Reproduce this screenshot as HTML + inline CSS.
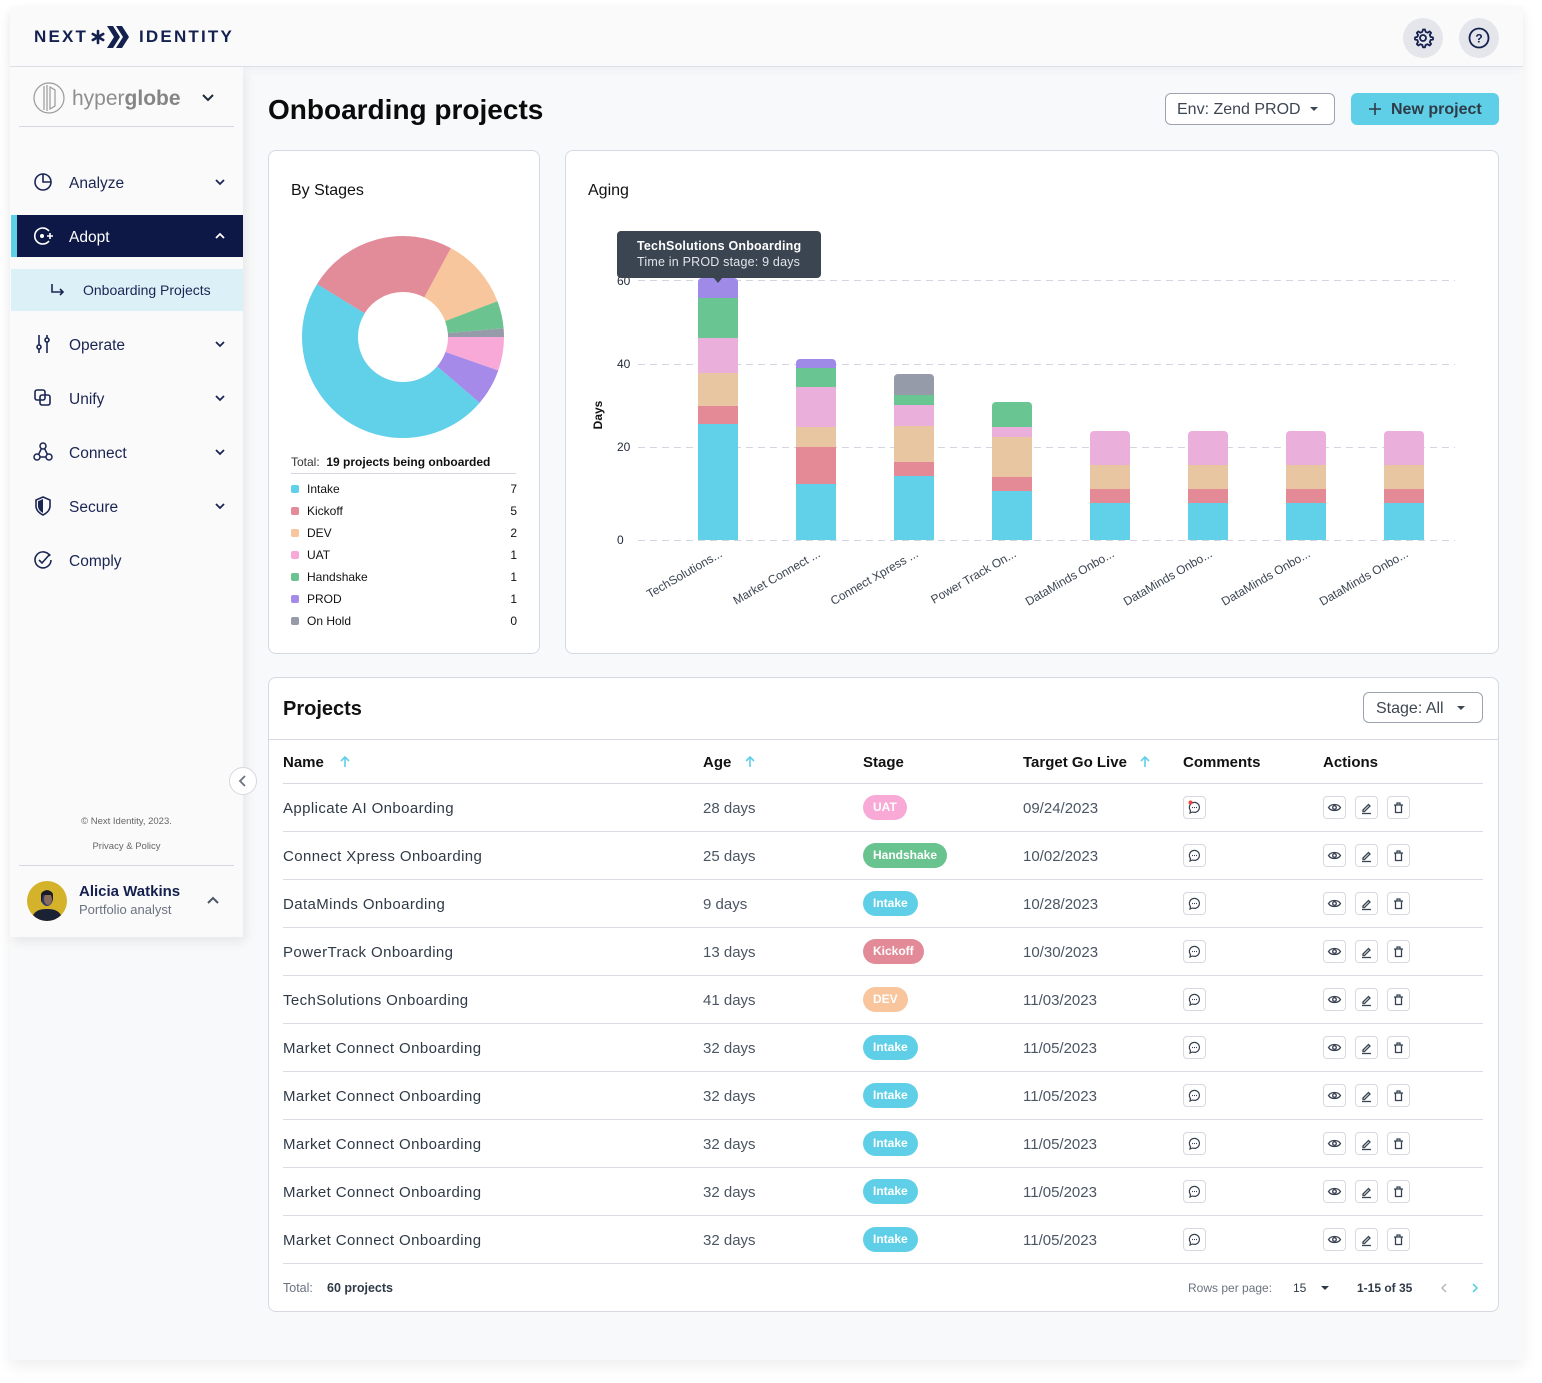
<!DOCTYPE html>
<html><head><meta charset="utf-8">
<style>
*{box-sizing:border-box;margin:0;padding:0}
body{width:1542px;height:1383px;background:#fff;position:relative;overflow:hidden;font-family:"Liberation Sans",sans-serif;color:#111827}
.a{position:absolute;white-space:nowrap}
.card{position:absolute;background:#fff;border:1px solid #d6d9e3;border-radius:8px}
.nav{position:absolute;left:69px;font-size:15.5px;color:#1b2553;line-height:20px}
.row{position:absolute;left:0;width:1542px;height:48px}
.row .nm{position:absolute;left:283px;top:15px;line-height:20px;font-size:15px;color:#2f3a47;letter-spacing:0.4px}
.row .ag{position:absolute;left:703px;top:15px;line-height:20px;font-size:15px;color:#4b5563}
.row .dt{position:absolute;left:1023px;top:15px;line-height:20px;font-size:15px;color:#4b5563}
.row .bd{position:absolute;left:863px;top:11px;height:25px;line-height:25px;border-radius:13px;padding:0 10px;font-size:12px;font-weight:bold;color:#fff}
.row .sep{position:absolute;left:283px;top:47px;width:1200px;height:1px;background:#d9dce4}
.ib{position:absolute;top:12px;width:23px;height:23px;border:1px solid #d6d9e0;border-radius:4px;background:#fff}
.ib svg{position:absolute;left:0;top:0}
.th{position:absolute;top:753px;line-height:20px;font-size:15px;font-weight:bold;color:#111}
.lg{position:absolute;left:291px;width:226px;height:16px;font-size:12px;line-height:16px;color:#111}
.lg i{position:absolute;left:0;top:4px;width:8px;height:8px;border-radius:2px}
.lg span{position:absolute;left:16px}
.lg b{position:absolute;right:0;font-weight:normal}
</style></head>
<body>
<!-- app container -->
<div class="a" style="left:10px;top:7px;width:1513px;height:1353px;background:#f8f9fa;box-shadow:0 6px 14px rgba(0,0,0,0.07)"></div>
<!-- header -->
<div class="a" style="left:10px;top:7px;width:1513px;height:60px;background:#fafafa;border-bottom:1px solid #dde0e8;box-shadow:0 3px 8px rgba(0,0,0,0.04)"></div>
<div class="a" style="left:34px;top:27px;line-height:20px;font-size:17px;font-weight:bold;letter-spacing:2.2px;color:#14204e">NEXT</div>
<svg class="a" style="left:88px;top:22px" width="50" height="30" viewBox="0 0 50 30">
 <g stroke="#14204e" stroke-width="2.6" stroke-linecap="round">
  <line x1="10" y1="9" x2="10" y2="21"/><line x1="4.8" y1="12" x2="15.2" y2="18"/><line x1="4.8" y1="18" x2="15.2" y2="12"/>
 </g>
 <polygon points="19,4 25,4 32,15 25,26 19,26 26,15" fill="#14204e"/>
 <polygon points="28,4 34,4 41,15 34,26 28,26 35,15" fill="#14204e"/>
</svg>
<div class="a" style="left:139px;top:27px;line-height:20px;font-size:17px;font-weight:bold;letter-spacing:2.2px;color:#14204e">IDENTITY</div>
<!-- header buttons -->
<div class="a" style="left:1403px;top:18px;width:40px;height:40px;border-radius:20px;background:#e4e6eb"></div>
<svg class="a" style="left:1403px;top:18px" width="40" height="40"><g fill="none" stroke="#14204e" stroke-width="1.8"><circle cx="20" cy="20" r="3"/><path d="M20 11.5 L22 11.5 L22.6 13.8 L24.6 14.7 L26.6 13.4 L28.1 14.9 L26.8 16.9 L27.6 18.9 L30 19.5 L30 21.5 L27.6 22 L26.8 24 L28.1 26 L26.6 27.5 L24.6 26.2 L22.6 27 L22 29.3 L20 29.3 L19.3 27 L17.3 26.2 L15.3 27.5 L13.8 26 L15.1 24 L14.3 22 L12 21.5 L12 19.5 L14.3 18.9 L15.1 16.9 L13.8 14.9 L15.3 13.4 L17.3 14.7 L19.3 13.8 Z" stroke-linejoin="round"/></g></svg>
<div class="a" style="left:1459px;top:18px;width:40px;height:40px;border-radius:20px;background:#e4e6eb"></div>
<svg class="a" style="left:1459px;top:18px" width="40" height="40"><circle cx="20" cy="20" r="9.5" fill="none" stroke="#14204e" stroke-width="1.8"/><text x="20" y="24.5" text-anchor="middle" font-family="Liberation Sans" font-weight="bold" font-size="12" fill="#14204e">?</text></svg>

<!-- sidebar -->
<div class="a" style="left:10px;top:67px;width:233px;height:870px;background:#fafafa;box-shadow:3px 5px 10px rgba(0,0,0,0.07)"></div>
<svg class="a" style="left:32px;top:82px" width="34" height="34"><g fill="none" stroke="#9a9a9a" stroke-width="1.2"><circle cx="17" cy="16" r="15"/><path d="M12 4 L12 28 M15 3 L15 29 M18 5 L18 27 L23 24 L23 8 Z"/></g></svg>
<div class="a" style="left:72px;top:87px;line-height:24px;font-size:21px;color:#8e8e8e">hyper<b style="color:#858585">globe</b></div>
<svg class="a" style="left:200px;top:92px" width="16" height="12"><path d="M3 3 L8 8 L13 3" fill="none" stroke="#1f2937" stroke-width="2"/></svg>
<div class="a" style="left:19px;top:126px;width:215px;height:1px;background:#d5d8e2"></div>

<!-- nav -->
<svg class="a" style="left:32px;top:171px" width="22" height="22"><g fill="none" stroke="#1b2553" stroke-width="1.6"><circle cx="11" cy="11" r="8"/><path d="M11 3 L11 11 L19 11"/></g></svg>
<div class="nav" style="top:174px">Analyze</div>
<svg class="a" style="left:212px;top:176px" width="16" height="12"><path d="M4 4 L8 8 L12 4" fill="none" stroke="#1b2553" stroke-width="1.8"/></svg>

<div class="a" style="left:11px;top:215px;width:232px;height:42px;background:#0e1846"></div>
<div class="a" style="left:11px;top:215px;width:6px;height:42px;background:#5fcfe8"></div>
<svg class="a" style="left:32px;top:225px" width="22" height="22"><g fill="none" stroke="#fff" stroke-width="1.6"><path d="M17 6 A8 8 0 1 0 17 16"/><path d="M15 11 L21 11 M18 8 L18 14"/></g><circle cx="10" cy="11" r="2" fill="#fff"/></svg>
<div class="nav" style="top:228px;color:#fff">Adopt</div>
<svg class="a" style="left:212px;top:230px" width="16" height="12"><path d="M4 8 L8 4 L12 8" fill="none" stroke="#fff" stroke-width="1.8"/></svg>

<div class="a" style="left:11px;top:269px;width:232px;height:42px;background:#dcf0f7"></div>
<svg class="a" style="left:50px;top:282px" width="16" height="16"><g fill="none" stroke="#1b2553" stroke-width="1.6"><path d="M2 2 L2 10 L13 10 M10 7 L13 10 L10 13"/></g></svg>
<div class="a" style="left:83px;top:280px;line-height:20px;font-size:14px;color:#1b2553">Onboarding Projects</div>

<svg class="a" style="left:32px;top:333px" width="22" height="22"><g fill="none" stroke="#1b2553" stroke-width="1.6"><path d="M7 2 L7 12 M7 16 L7 20 M15 2 L15 5 M15 9 L15 20"/><circle cx="7" cy="14" r="2"/><circle cx="15" cy="7" r="2"/></g></svg>
<div class="nav" style="top:336px">Operate</div>
<svg class="a" style="left:212px;top:338px" width="16" height="12"><path d="M4 4 L8 8 L12 4" fill="none" stroke="#1b2553" stroke-width="1.8"/></svg>

<svg class="a" style="left:32px;top:387px" width="22" height="22"><g fill="none" stroke="#1b2553" stroke-width="1.6"><rect x="3" y="3" width="10" height="10" rx="2"/><rect x="8" y="8" width="10" height="10" rx="2"/></g></svg>
<div class="nav" style="top:390px">Unify</div>
<svg class="a" style="left:212px;top:392px" width="16" height="12"><path d="M4 4 L8 8 L12 4" fill="none" stroke="#1b2553" stroke-width="1.8"/></svg>

<svg class="a" style="left:32px;top:441px" width="22" height="22"><g fill="none" stroke="#1b2553" stroke-width="1.5"><circle cx="11" cy="5" r="3"/><circle cx="5" cy="16" r="3"/><circle cx="17" cy="16" r="3"/><path d="M9.5 7.5 L6.5 13.5 M12.5 7.5 L15.5 13.5 M8 16 L14 16"/></g></svg>
<div class="nav" style="top:444px">Connect</div>
<svg class="a" style="left:212px;top:446px" width="16" height="12"><path d="M4 4 L8 8 L12 4" fill="none" stroke="#1b2553" stroke-width="1.8"/></svg>

<svg class="a" style="left:32px;top:495px" width="22" height="22"><path d="M11 2 L18 5 L18 11 C18 15 15 18 11 20 C7 18 4 15 4 11 L4 5 Z" fill="none" stroke="#1b2553" stroke-width="1.6"/><path d="M11 4 L11 18 C8 16.5 6 14 6 11 L6 6.3 Z" fill="#1b2553"/></svg>
<div class="nav" style="top:498px">Secure</div>
<svg class="a" style="left:212px;top:500px" width="16" height="12"><path d="M4 4 L8 8 L12 4" fill="none" stroke="#1b2553" stroke-width="1.8"/></svg>

<svg class="a" style="left:32px;top:549px" width="22" height="22"><g fill="none" stroke="#1b2553" stroke-width="1.6"><path d="M18 7 A8 8 0 1 0 19 11"/><path d="M7 11 L10 14 L18 5"/></g></svg>
<div class="nav" style="top:552px">Comply</div>

<!-- collapse -->
<div class="a" style="left:229px;top:767px;width:28px;height:28px;border-radius:14px;background:#fff;border:1px solid #d5d8e0"></div>
<svg class="a" style="left:229px;top:767px" width="28" height="28"><path d="M16 9 L11 14 L16 19" fill="none" stroke="#6b7280" stroke-width="1.8"/></svg>

<div class="a" style="left:10px;top:815px;width:233px;text-align:center;font-size:9.5px;line-height:14px;color:#666">© Next Identity, 2023.</div>
<div class="a" style="left:10px;top:840px;width:233px;text-align:center;font-size:9.5px;line-height:14px;color:#666">Privacy &amp; Policy</div>
<div class="a" style="left:19px;top:865px;width:215px;height:1px;background:#d5d8e2"></div>
<svg class="a" style="left:27px;top:881px" width="40" height="40"><defs><clipPath id="av"><circle cx="20" cy="20" r="20"/></clipPath></defs><g clip-path="url(#av)"><rect width="40" height="40" fill="#d4b22a"/><path d="M4 40 C6 30 12 28 20 28 C28 28 34 30 36 40 Z" fill="#1a2233"/><ellipse cx="20" cy="17" rx="6" ry="8" fill="#2a3a6a"/><ellipse cx="21" cy="18" rx="4" ry="6" fill="#8b6a5a"/><path d="M14 14 C14 8 26 8 26 14 L26 20 L24 14 L16 14 L14 22 Z" fill="#1a1a22"/></g></svg>
<div class="a" style="left:79px;top:882px;line-height:20px;font-size:15px;font-weight:bold;color:#14204e">Alicia Watkins</div>
<div class="a" style="left:79px;top:901px;line-height:18px;font-size:13px;color:#6b7280">Portfolio analyst</div>
<svg class="a" style="left:205px;top:895px" width="16" height="12"><path d="M3 8 L8 3 L13 8" fill="none" stroke="#4b5563" stroke-width="2"/></svg>

<!-- main title -->
<div class="a" style="left:268px;top:92px;line-height:36px;font-size:28px;font-weight:bold;color:#0b0b0b">Onboarding projects</div>
<div class="a" style="left:1165px;top:93px;width:170px;height:32px;border:1px solid #9ca3af;border-radius:6px;background:#fff"></div>
<div class="a" style="left:1177px;top:100px;line-height:20px;font-size:16px;color:#3d4653">Env: Zend PROD</div>
<svg class="a" style="left:1308px;top:104px" width="12" height="10"><path d="M2 3 L10 3 L6 7 Z" fill="#3d4653"/></svg>
<div class="a" style="left:1351px;top:93px;width:148px;height:32px;border-radius:6px;background:#5fcfe8"></div>
<svg class="a" style="left:1367px;top:101px" width="16" height="16"><path d="M8 2 L8 14 M2 8 L14 8" stroke="#2e3b47" stroke-width="1.6"/></svg>
<div class="a" style="left:1391px;top:100px;line-height:20px;font-size:16px;font-weight:bold;color:#2e3b47">New project</div>

<!-- cards -->
<div class="card" style="left:268px;top:150px;width:272px;height:504px"></div>
<div class="card" style="left:565px;top:150px;width:934px;height:504px"></div>
<div class="card" style="left:268px;top:677px;width:1231px;height:635px"></div>

<div class="a" style="left:291px;top:181px;line-height:20px;font-size:16px;color:#111">By Stages</div>
<div class="a" style="left:588px;top:181px;line-height:20px;font-size:16px;color:#111">Aging</div>

<!-- donut -->
<svg class="a" style="left:0;top:0" width="540" height="450">
 <g fill="none" stroke-width="56">
  <circle cx="403" cy="337" r="73" stroke="#e38c99" stroke-dasharray="110.46 460" transform="rotate(211.6 403 337)"/>
  <circle cx="403" cy="337" r="73" stroke="#f8c69d" stroke-dasharray="52.24 460" transform="rotate(-61.7 403 337)"/>
  <circle cx="403" cy="337" r="73" stroke="#6bc48f" stroke-dasharray="20.0 460" transform="rotate(-20.7 403 337)"/>
  <circle cx="403" cy="337" r="73" stroke="#959ba8" stroke-dasharray="6.37 460" transform="rotate(-5 403 337)"/>
  <circle cx="403" cy="337" r="73" stroke="#f9a9d8" stroke-dasharray="24.72 460" transform="rotate(0 403 337)"/>
  <circle cx="403" cy="337" r="73" stroke="#a68aea" stroke-dasharray="27.14 460" transform="rotate(19.4 403 337)"/>
  <circle cx="403" cy="337" r="73" stroke="#61d0e9" stroke-dasharray="217.74 460" transform="rotate(40.7 403 337)"/>
 </g>
</svg>
<div class="a" style="left:291px;top:454px;line-height:16px;font-size:12px;color:#333">Total:&nbsp; <b style="color:#111">19 projects being onboarded</b></div>
<div class="a" style="left:291px;top:473px;width:225px;height:1px;background:#d5d8e2"></div>
<div class="lg" style="top:481px"><i style="background:#61d0e9"></i><span>Intake</span><b>7</b></div>
<div class="lg" style="top:503px"><i style="background:#e38c99"></i><span>Kickoff</span><b>5</b></div>
<div class="lg" style="top:525px"><i style="background:#f8c69d"></i><span>DEV</span><b>2</b></div>
<div class="lg" style="top:547px"><i style="background:#f9a9d8"></i><span>UAT</span><b>1</b></div>
<div class="lg" style="top:569px"><i style="background:#6bc48f"></i><span>Handshake</span><b>1</b></div>
<div class="lg" style="top:591px"><i style="background:#a68aea"></i><span>PROD</span><b>1</b></div>
<div class="lg" style="top:613px"><i style="background:#959ba8"></i><span>On Hold</span><b>0</b></div>

<!-- bar chart -->
<svg class="a" style="left:0;top:0" width="1542" height="660" font-family="Liberation Sans">
 <g stroke="#d3d6e0" stroke-width="1" stroke-dasharray="7 5">
  <line x1="638" y1="280.5" x2="1455" y2="280.5"/>
  <line x1="638" y1="364.5" x2="1455" y2="364.5"/>
  <line x1="638" y1="447.5" x2="1455" y2="447.5"/>
  <line x1="638" y1="540.5" x2="1455" y2="540.5"/>
 </g>
 <g font-size="12" fill="#1f2937">
  <text x="617" y="285">60</text><text x="617" y="368">40</text><text x="617" y="451">20</text><text x="617" y="544">0</text>
 </g>
 <text x="602" y="415" font-size="12" font-weight="bold" fill="#111" text-anchor="middle" transform="rotate(-90 602 415)">Days</text>
 <defs>
  <clipPath id="c1"><rect x="698" y="278" width="40" height="270" rx="4"/></clipPath>
  <clipPath id="c2"><rect x="796" y="359" width="40" height="190" rx="4"/></clipPath>
  <clipPath id="c3"><rect x="894" y="374" width="40" height="175" rx="4"/></clipPath>
  <clipPath id="c4"><rect x="992" y="402" width="40" height="150" rx="4"/></clipPath>
  <clipPath id="c5"><rect x="1090" y="431" width="40" height="120" rx="4"/></clipPath>
  <clipPath id="c6"><rect x="1188" y="431" width="40" height="120" rx="4"/></clipPath>
  <clipPath id="c7"><rect x="1286" y="431" width="40" height="120" rx="4"/></clipPath>
  <clipPath id="c8"><rect x="1384" y="431" width="40" height="120" rx="4"/></clipPath>
 </defs>
 <g clip-path="url(#c1)">
  <rect x="698" y="278" width="40" height="20" fill="#9f8ae8"/>
  <rect x="698" y="298" width="40" height="40" fill="#69c592"/>
  <rect x="698" y="338" width="40" height="35" fill="#ebafdc"/>
  <rect x="698" y="373" width="40" height="33" fill="#e8c6a1"/>
  <rect x="698" y="406" width="40" height="18" fill="#e38a96"/>
  <rect x="698" y="424" width="40" height="116" fill="#61d0e9"/>
 </g>
 <g clip-path="url(#c2)">
  <rect x="796" y="359" width="40" height="9" fill="#9f8ae8"/>
  <rect x="796" y="368" width="40" height="19" fill="#69c592"/>
  <rect x="796" y="387" width="40" height="40" fill="#ebafdc"/>
  <rect x="796" y="427" width="40" height="20" fill="#e8c6a1"/>
  <rect x="796" y="447" width="40" height="37" fill="#e38a96"/>
  <rect x="796" y="484" width="40" height="56" fill="#61d0e9"/>
 </g>
 <g clip-path="url(#c3)">
  <rect x="894" y="374" width="40" height="21" fill="#959ba8"/>
  <rect x="894" y="395" width="40" height="10" fill="#69c592"/>
  <rect x="894" y="405" width="40" height="21" fill="#ebafdc"/>
  <rect x="894" y="426" width="40" height="36" fill="#e8c6a1"/>
  <rect x="894" y="462" width="40" height="14" fill="#e38a96"/>
  <rect x="894" y="476" width="40" height="64" fill="#61d0e9"/>
 </g>
 <g clip-path="url(#c4)">
  <rect x="992" y="402" width="40" height="25" fill="#69c592"/>
  <rect x="992" y="427" width="40" height="10" fill="#ebafdc"/>
  <rect x="992" y="437" width="40" height="40" fill="#e8c6a1"/>
  <rect x="992" y="477" width="40" height="14" fill="#e38a96"/>
  <rect x="992" y="491" width="40" height="49" fill="#61d0e9"/>
 </g>
 <g clip-path="url(#c5)">
  <rect x="1090" y="431" width="40" height="34" fill="#ebafdc"/><rect x="1090" y="465" width="40" height="24" fill="#e8c6a1"/><rect x="1090" y="489" width="40" height="14" fill="#e38a96"/><rect x="1090" y="503" width="40" height="37" fill="#61d0e9"/>
 </g>
 <g clip-path="url(#c6)">
  <rect x="1188" y="431" width="40" height="34" fill="#ebafdc"/><rect x="1188" y="465" width="40" height="24" fill="#e8c6a1"/><rect x="1188" y="489" width="40" height="14" fill="#e38a96"/><rect x="1188" y="503" width="40" height="37" fill="#61d0e9"/>
 </g>
 <g clip-path="url(#c7)">
  <rect x="1286" y="431" width="40" height="34" fill="#ebafdc"/><rect x="1286" y="465" width="40" height="24" fill="#e8c6a1"/><rect x="1286" y="489" width="40" height="14" fill="#e38a96"/><rect x="1286" y="503" width="40" height="37" fill="#61d0e9"/>
 </g>
 <g clip-path="url(#c8)">
  <rect x="1384" y="431" width="40" height="34" fill="#ebafdc"/><rect x="1384" y="465" width="40" height="24" fill="#e8c6a1"/><rect x="1384" y="489" width="40" height="14" fill="#e38a96"/><rect x="1384" y="503" width="40" height="37" fill="#61d0e9"/>
 </g>
 <g font-size="12" fill="#3d4652" text-anchor="end">
  <text x="723" y="556" transform="rotate(-30 723 556)">TechSolutions...</text>
  <text x="821" y="556" transform="rotate(-30 821 556)">Market Connect ...</text>
  <text x="919" y="556" transform="rotate(-30 919 556)">Connect Xpress ...</text>
  <text x="1017" y="556" transform="rotate(-30 1017 556)">Power Track On...</text>
  <text x="1115" y="556" transform="rotate(-30 1115 556)">DataMinds Onbo...</text>
  <text x="1213" y="556" transform="rotate(-30 1213 556)">DataMinds Onbo...</text>
  <text x="1311" y="556" transform="rotate(-30 1311 556)">DataMinds Onbo...</text>
  <text x="1409" y="556" transform="rotate(-30 1409 556)">DataMinds Onbo...</text>
 </g>
 <!-- tooltip -->
 <rect x="617" y="231" width="204" height="47" rx="4" fill="#3a4551"/>
 <polygon points="713,277 723,277 718,283" fill="#3a4551"/>
 <text x="637" y="250" font-size="12.5" font-weight="bold" fill="#fff" letter-spacing="0.2">TechSolutions Onboarding</text>
 <text x="637" y="266" font-size="12.5" fill="#e2e5ea" letter-spacing="0.2">Time in PROD stage: 9 days</text>
</svg>

<!-- projects table -->
<div class="a" style="left:283px;top:697px;line-height:24px;font-size:20px;font-weight:bold;color:#111">Projects</div>
<div class="a" style="left:1363px;top:692px;width:120px;height:31px;border:1px solid #9ca3af;border-radius:6px;background:#fff"></div>
<div class="a" style="left:1376px;top:699px;line-height:20px;font-size:16px;color:#3d4653">Stage: All</div>
<svg class="a" style="left:1455px;top:703px" width="12" height="10"><path d="M2 3 L10 3 L6 7 Z" fill="#3d4653"/></svg>
<div class="a" style="left:269px;top:739px;width:1229px;height:1px;background:#d6d9e3"></div>

<div class="th" style="left:283px">Name</div>
<svg class="a" style="left:338px;top:755px" width="14" height="14"><path d="M7 2 L7 12 M3 6 L7 2 L11 6" fill="none" stroke="#5fcfe8" stroke-width="1.6"/></svg>
<div class="th" style="left:703px">Age</div>
<svg class="a" style="left:743px;top:755px" width="14" height="14"><path d="M7 2 L7 12 M3 6 L7 2 L11 6" fill="none" stroke="#5fcfe8" stroke-width="1.6"/></svg>
<div class="th" style="left:863px">Stage</div>
<div class="th" style="left:1023px">Target Go Live</div>
<svg class="a" style="left:1138px;top:755px" width="14" height="14"><path d="M7 2 L7 12 M3 6 L7 2 L11 6" fill="none" stroke="#5fcfe8" stroke-width="1.6"/></svg>
<div class="th" style="left:1183px">Comments</div>
<div class="th" style="left:1323px">Actions</div>
<div class="a" style="left:283px;top:783px;width:1200px;height:1px;background:#d6d9e3"></div>

<!-- rows -->
<div class="row" style="top:784px"><div class="nm">Applicate AI Onboarding</div><div class="ag">28 days</div><div class="bd" style="background:#f9a9d6">UAT</div><div class="dt">09/24/2023</div>
<div class="ib" style="left:1183px"><svg width="21" height="21"><g fill="none" stroke="#374151" stroke-width="1.2"><path d="M6.5 13.5 A5 5 0 1 1 8.5 15 L6 16 Z"/></g><circle cx="8.5" cy="10.5" r="0.6" fill="#374151"/><circle cx="10.5" cy="10.5" r="0.6" fill="#374151"/><circle cx="12.5" cy="10.5" r="0.6" fill="#374151"/><circle cx="6.5" cy="5.5" r="2" fill="#ef4444"/></svg></div>
<div class="ib" style="left:1323px"><svg width="21" height="21"><g fill="none" stroke="#374151" stroke-width="1.3"><path d="M4.5 10.5 C7 6.5 14 6.5 16.5 10.5 C14 14.5 7 14.5 4.5 10.5 Z"/><circle cx="10.5" cy="10.5" r="1.8"/></g></svg></div>
<div class="ib" style="left:1355px"><svg width="21" height="21"><g fill="none" stroke="#374151" stroke-width="1.3"><path d="M7 13 L12.5 7.5 L14 9 L8.5 14.5 L7 14.5 Z"/><path d="M6 16.5 L15 16.5"/></g></svg></div>
<div class="ib" style="left:1387px"><svg width="21" height="21"><g fill="none" stroke="#374151" stroke-width="1.3"><path d="M7.5 8 L7.5 15.5 L13.5 15.5 L13.5 8 M6 8 L15 8 M9 8 L9 6 L12 6 L12 8"/></g></svg></div>
<div class="sep"></div></div>

<div class="row" style="top:832px"><div class="nm">Connect Xpress Onboarding</div><div class="ag">25 days</div><div class="bd" style="background:#69c38f">Handshake</div><div class="dt">10/02/2023</div>
<div class="ib" style="left:1183px"><svg width="21" height="21"><g fill="none" stroke="#374151" stroke-width="1.2"><path d="M6.5 13.5 A5 5 0 1 1 8.5 15 L6 16 Z"/></g><circle cx="8.5" cy="10.5" r="0.6" fill="#374151"/><circle cx="10.5" cy="10.5" r="0.6" fill="#374151"/><circle cx="12.5" cy="10.5" r="0.6" fill="#374151"/></svg></div>
<div class="ib" style="left:1323px"><svg width="21" height="21"><g fill="none" stroke="#374151" stroke-width="1.3"><path d="M4.5 10.5 C7 6.5 14 6.5 16.5 10.5 C14 14.5 7 14.5 4.5 10.5 Z"/><circle cx="10.5" cy="10.5" r="1.8"/></g></svg></div>
<div class="ib" style="left:1355px"><svg width="21" height="21"><g fill="none" stroke="#374151" stroke-width="1.3"><path d="M7 13 L12.5 7.5 L14 9 L8.5 14.5 L7 14.5 Z"/><path d="M6 16.5 L15 16.5"/></g></svg></div>
<div class="ib" style="left:1387px"><svg width="21" height="21"><g fill="none" stroke="#374151" stroke-width="1.3"><path d="M7.5 8 L7.5 15.5 L13.5 15.5 L13.5 8 M6 8 L15 8 M9 8 L9 6 L12 6 L12 8"/></g></svg></div>
<div class="sep"></div></div>

<div class="row" style="top:880px"><div class="nm">DataMinds Onboarding</div><div class="ag">9 days</div><div class="bd" style="background:#5fcfe8">Intake</div><div class="dt">10/28/2023</div>
<div class="ib" style="left:1183px"><svg width="21" height="21"><g fill="none" stroke="#374151" stroke-width="1.2"><path d="M6.5 13.5 A5 5 0 1 1 8.5 15 L6 16 Z"/></g><circle cx="8.5" cy="10.5" r="0.6" fill="#374151"/><circle cx="10.5" cy="10.5" r="0.6" fill="#374151"/><circle cx="12.5" cy="10.5" r="0.6" fill="#374151"/></svg></div>
<div class="ib" style="left:1323px"><svg width="21" height="21"><g fill="none" stroke="#374151" stroke-width="1.3"><path d="M4.5 10.5 C7 6.5 14 6.5 16.5 10.5 C14 14.5 7 14.5 4.5 10.5 Z"/><circle cx="10.5" cy="10.5" r="1.8"/></g></svg></div>
<div class="ib" style="left:1355px"><svg width="21" height="21"><g fill="none" stroke="#374151" stroke-width="1.3"><path d="M7 13 L12.5 7.5 L14 9 L8.5 14.5 L7 14.5 Z"/><path d="M6 16.5 L15 16.5"/></g></svg></div>
<div class="ib" style="left:1387px"><svg width="21" height="21"><g fill="none" stroke="#374151" stroke-width="1.3"><path d="M7.5 8 L7.5 15.5 L13.5 15.5 L13.5 8 M6 8 L15 8 M9 8 L9 6 L12 6 L12 8"/></g></svg></div>
<div class="sep"></div></div>

<div class="row" style="top:928px"><div class="nm">PowerTrack Onboarding</div><div class="ag">13 days</div><div class="bd" style="background:#e28a98">Kickoff</div><div class="dt">10/30/2023</div>
<div class="ib" style="left:1183px"><svg width="21" height="21"><g fill="none" stroke="#374151" stroke-width="1.2"><path d="M6.5 13.5 A5 5 0 1 1 8.5 15 L6 16 Z"/></g><circle cx="8.5" cy="10.5" r="0.6" fill="#374151"/><circle cx="10.5" cy="10.5" r="0.6" fill="#374151"/><circle cx="12.5" cy="10.5" r="0.6" fill="#374151"/></svg></div>
<div class="ib" style="left:1323px"><svg width="21" height="21"><g fill="none" stroke="#374151" stroke-width="1.3"><path d="M4.5 10.5 C7 6.5 14 6.5 16.5 10.5 C14 14.5 7 14.5 4.5 10.5 Z"/><circle cx="10.5" cy="10.5" r="1.8"/></g></svg></div>
<div class="ib" style="left:1355px"><svg width="21" height="21"><g fill="none" stroke="#374151" stroke-width="1.3"><path d="M7 13 L12.5 7.5 L14 9 L8.5 14.5 L7 14.5 Z"/><path d="M6 16.5 L15 16.5"/></g></svg></div>
<div class="ib" style="left:1387px"><svg width="21" height="21"><g fill="none" stroke="#374151" stroke-width="1.3"><path d="M7.5 8 L7.5 15.5 L13.5 15.5 L13.5 8 M6 8 L15 8 M9 8 L9 6 L12 6 L12 8"/></g></svg></div>
<div class="sep"></div></div>

<div class="row" style="top:976px"><div class="nm">TechSolutions Onboarding</div><div class="ag">41 days</div><div class="bd" style="background:#f8c59c">DEV</div><div class="dt">11/03/2023</div>
<div class="ib" style="left:1183px"><svg width="21" height="21"><g fill="none" stroke="#374151" stroke-width="1.2"><path d="M6.5 13.5 A5 5 0 1 1 8.5 15 L6 16 Z"/></g><circle cx="8.5" cy="10.5" r="0.6" fill="#374151"/><circle cx="10.5" cy="10.5" r="0.6" fill="#374151"/><circle cx="12.5" cy="10.5" r="0.6" fill="#374151"/></svg></div>
<div class="ib" style="left:1323px"><svg width="21" height="21"><g fill="none" stroke="#374151" stroke-width="1.3"><path d="M4.5 10.5 C7 6.5 14 6.5 16.5 10.5 C14 14.5 7 14.5 4.5 10.5 Z"/><circle cx="10.5" cy="10.5" r="1.8"/></g></svg></div>
<div class="ib" style="left:1355px"><svg width="21" height="21"><g fill="none" stroke="#374151" stroke-width="1.3"><path d="M7 13 L12.5 7.5 L14 9 L8.5 14.5 L7 14.5 Z"/><path d="M6 16.5 L15 16.5"/></g></svg></div>
<div class="ib" style="left:1387px"><svg width="21" height="21"><g fill="none" stroke="#374151" stroke-width="1.3"><path d="M7.5 8 L7.5 15.5 L13.5 15.5 L13.5 8 M6 8 L15 8 M9 8 L9 6 L12 6 L12 8"/></g></svg></div>
<div class="sep"></div></div>

<div class="row" style="top:1024px"><div class="nm">Market Connect Onboarding</div><div class="ag">32 days</div><div class="bd" style="background:#5fcfe8">Intake</div><div class="dt">11/05/2023</div>
<div class="ib" style="left:1183px"><svg width="21" height="21"><g fill="none" stroke="#374151" stroke-width="1.2"><path d="M6.5 13.5 A5 5 0 1 1 8.5 15 L6 16 Z"/></g><circle cx="8.5" cy="10.5" r="0.6" fill="#374151"/><circle cx="10.5" cy="10.5" r="0.6" fill="#374151"/><circle cx="12.5" cy="10.5" r="0.6" fill="#374151"/></svg></div>
<div class="ib" style="left:1323px"><svg width="21" height="21"><g fill="none" stroke="#374151" stroke-width="1.3"><path d="M4.5 10.5 C7 6.5 14 6.5 16.5 10.5 C14 14.5 7 14.5 4.5 10.5 Z"/><circle cx="10.5" cy="10.5" r="1.8"/></g></svg></div>
<div class="ib" style="left:1355px"><svg width="21" height="21"><g fill="none" stroke="#374151" stroke-width="1.3"><path d="M7 13 L12.5 7.5 L14 9 L8.5 14.5 L7 14.5 Z"/><path d="M6 16.5 L15 16.5"/></g></svg></div>
<div class="ib" style="left:1387px"><svg width="21" height="21"><g fill="none" stroke="#374151" stroke-width="1.3"><path d="M7.5 8 L7.5 15.5 L13.5 15.5 L13.5 8 M6 8 L15 8 M9 8 L9 6 L12 6 L12 8"/></g></svg></div>
<div class="sep"></div></div>

<div class="row" style="top:1072px"><div class="nm">Market Connect Onboarding</div><div class="ag">32 days</div><div class="bd" style="background:#5fcfe8">Intake</div><div class="dt">11/05/2023</div>
<div class="ib" style="left:1183px"><svg width="21" height="21"><g fill="none" stroke="#374151" stroke-width="1.2"><path d="M6.5 13.5 A5 5 0 1 1 8.5 15 L6 16 Z"/></g><circle cx="8.5" cy="10.5" r="0.6" fill="#374151"/><circle cx="10.5" cy="10.5" r="0.6" fill="#374151"/><circle cx="12.5" cy="10.5" r="0.6" fill="#374151"/></svg></div>
<div class="ib" style="left:1323px"><svg width="21" height="21"><g fill="none" stroke="#374151" stroke-width="1.3"><path d="M4.5 10.5 C7 6.5 14 6.5 16.5 10.5 C14 14.5 7 14.5 4.5 10.5 Z"/><circle cx="10.5" cy="10.5" r="1.8"/></g></svg></div>
<div class="ib" style="left:1355px"><svg width="21" height="21"><g fill="none" stroke="#374151" stroke-width="1.3"><path d="M7 13 L12.5 7.5 L14 9 L8.5 14.5 L7 14.5 Z"/><path d="M6 16.5 L15 16.5"/></g></svg></div>
<div class="ib" style="left:1387px"><svg width="21" height="21"><g fill="none" stroke="#374151" stroke-width="1.3"><path d="M7.5 8 L7.5 15.5 L13.5 15.5 L13.5 8 M6 8 L15 8 M9 8 L9 6 L12 6 L12 8"/></g></svg></div>
<div class="sep"></div></div>

<div class="row" style="top:1120px"><div class="nm">Market Connect Onboarding</div><div class="ag">32 days</div><div class="bd" style="background:#5fcfe8">Intake</div><div class="dt">11/05/2023</div>
<div class="ib" style="left:1183px"><svg width="21" height="21"><g fill="none" stroke="#374151" stroke-width="1.2"><path d="M6.5 13.5 A5 5 0 1 1 8.5 15 L6 16 Z"/></g><circle cx="8.5" cy="10.5" r="0.6" fill="#374151"/><circle cx="10.5" cy="10.5" r="0.6" fill="#374151"/><circle cx="12.5" cy="10.5" r="0.6" fill="#374151"/></svg></div>
<div class="ib" style="left:1323px"><svg width="21" height="21"><g fill="none" stroke="#374151" stroke-width="1.3"><path d="M4.5 10.5 C7 6.5 14 6.5 16.5 10.5 C14 14.5 7 14.5 4.5 10.5 Z"/><circle cx="10.5" cy="10.5" r="1.8"/></g></svg></div>
<div class="ib" style="left:1355px"><svg width="21" height="21"><g fill="none" stroke="#374151" stroke-width="1.3"><path d="M7 13 L12.5 7.5 L14 9 L8.5 14.5 L7 14.5 Z"/><path d="M6 16.5 L15 16.5"/></g></svg></div>
<div class="ib" style="left:1387px"><svg width="21" height="21"><g fill="none" stroke="#374151" stroke-width="1.3"><path d="M7.5 8 L7.5 15.5 L13.5 15.5 L13.5 8 M6 8 L15 8 M9 8 L9 6 L12 6 L12 8"/></g></svg></div>
<div class="sep"></div></div>

<div class="row" style="top:1168px"><div class="nm">Market Connect Onboarding</div><div class="ag">32 days</div><div class="bd" style="background:#5fcfe8">Intake</div><div class="dt">11/05/2023</div>
<div class="ib" style="left:1183px"><svg width="21" height="21"><g fill="none" stroke="#374151" stroke-width="1.2"><path d="M6.5 13.5 A5 5 0 1 1 8.5 15 L6 16 Z"/></g><circle cx="8.5" cy="10.5" r="0.6" fill="#374151"/><circle cx="10.5" cy="10.5" r="0.6" fill="#374151"/><circle cx="12.5" cy="10.5" r="0.6" fill="#374151"/></svg></div>
<div class="ib" style="left:1323px"><svg width="21" height="21"><g fill="none" stroke="#374151" stroke-width="1.3"><path d="M4.5 10.5 C7 6.5 14 6.5 16.5 10.5 C14 14.5 7 14.5 4.5 10.5 Z"/><circle cx="10.5" cy="10.5" r="1.8"/></g></svg></div>
<div class="ib" style="left:1355px"><svg width="21" height="21"><g fill="none" stroke="#374151" stroke-width="1.3"><path d="M7 13 L12.5 7.5 L14 9 L8.5 14.5 L7 14.5 Z"/><path d="M6 16.5 L15 16.5"/></g></svg></div>
<div class="ib" style="left:1387px"><svg width="21" height="21"><g fill="none" stroke="#374151" stroke-width="1.3"><path d="M7.5 8 L7.5 15.5 L13.5 15.5 L13.5 8 M6 8 L15 8 M9 8 L9 6 L12 6 L12 8"/></g></svg></div>
<div class="sep"></div></div>

<div class="row" style="top:1216px"><div class="nm">Market Connect Onboarding</div><div class="ag">32 days</div><div class="bd" style="background:#5fcfe8">Intake</div><div class="dt">11/05/2023</div>
<div class="ib" style="left:1183px"><svg width="21" height="21"><g fill="none" stroke="#374151" stroke-width="1.2"><path d="M6.5 13.5 A5 5 0 1 1 8.5 15 L6 16 Z"/></g><circle cx="8.5" cy="10.5" r="0.6" fill="#374151"/><circle cx="10.5" cy="10.5" r="0.6" fill="#374151"/><circle cx="12.5" cy="10.5" r="0.6" fill="#374151"/></svg></div>
<div class="ib" style="left:1323px"><svg width="21" height="21"><g fill="none" stroke="#374151" stroke-width="1.3"><path d="M4.5 10.5 C7 6.5 14 6.5 16.5 10.5 C14 14.5 7 14.5 4.5 10.5 Z"/><circle cx="10.5" cy="10.5" r="1.8"/></g></svg></div>
<div class="ib" style="left:1355px"><svg width="21" height="21"><g fill="none" stroke="#374151" stroke-width="1.3"><path d="M7 13 L12.5 7.5 L14 9 L8.5 14.5 L7 14.5 Z"/><path d="M6 16.5 L15 16.5"/></g></svg></div>
<div class="ib" style="left:1387px"><svg width="21" height="21"><g fill="none" stroke="#374151" stroke-width="1.3"><path d="M7.5 8 L7.5 15.5 L13.5 15.5 L13.5 8 M6 8 L15 8 M9 8 L9 6 L12 6 L12 8"/></g></svg></div>
<div class="sep"></div></div>

<!-- table footer -->
<div class="a" style="left:283px;top:1280px;line-height:16px;font-size:12.5px;color:#6b7280">Total:</div>
<div class="a" style="left:327px;top:1280px;line-height:16px;font-size:12.5px;font-weight:bold;color:#2f3a47">60 projects</div>
<div class="a" style="left:1188px;top:1280px;line-height:16px;font-size:12px;color:#6b7280">Rows per page:</div>
<div class="a" style="left:1293px;top:1280px;line-height:16px;font-size:12px;color:#2f3a47">15</div>
<svg class="a" style="left:1319px;top:1283px" width="12" height="10"><path d="M2 3 L10 3 L6 7 Z" fill="#2f3a47"/></svg>
<div class="a" style="left:1357px;top:1280px;line-height:16px;font-size:12px;font-weight:bold;color:#2f3a47">1-15 of 35</div>
<svg class="a" style="left:1437px;top:1281px" width="14" height="14"><path d="M9 3 L5 7 L9 11" fill="none" stroke="#b0b5be" stroke-width="1.4"/></svg>
<svg class="a" style="left:1468px;top:1281px" width="14" height="14"><path d="M5 3 L9 7 L5 11" fill="none" stroke="#5fcfe8" stroke-width="1.6"/></svg>
</body></html>
